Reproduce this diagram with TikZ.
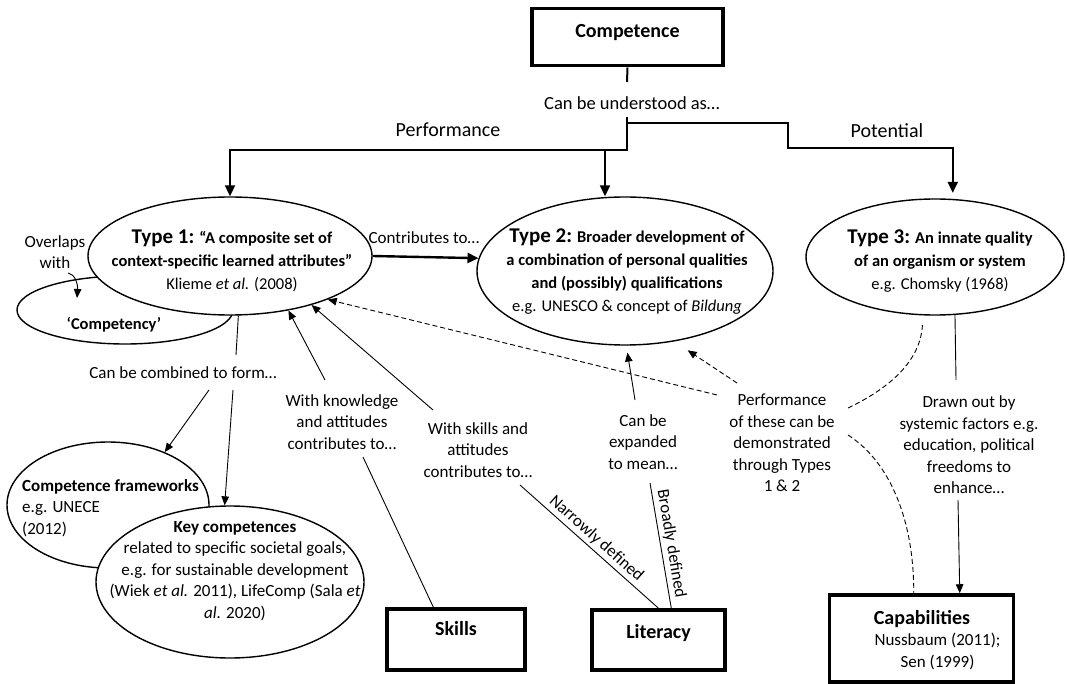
\documentclass[tikz,border=0pt]{standalone}
\usepackage{fontspec}
\setmainfont{Carlito}
\usetikzlibrary{arrows.meta,shapes.geometric}
\newcommand\typetag[1]{{\fontsize{21}{23}\selectfont #1}}
\begin{document}
\begin{tikzpicture}[x=1pt, y=-1pt,
  lbl/.style={font=\fontsize{17}{21.5}\selectfont, align=center, inner sep=0pt},
  branchlbl/.style={font=\fontsize{20}{24}\selectfont, inner sep=0pt},
  bubtxt/.style={font=\fontsize{16.5}{23}\selectfont\bfseries, align=center, inner sep=0pt},
  boxtxt/.style={font=\fontsize{20}{24}\selectfont\bfseries},
  termbox/.style={draw, line width=3.5pt, inner sep=0pt, align=center},
  bubble/.style={draw, ellipse, line width=1.4pt, fill=white, inner sep=0pt},
  heavy/.style={line width=2pt},
  slim/.style={line width=0.9pt},
  dashline/.style={line width=0.9pt, dash pattern=on 5pt off 3pt},
  bigtip/.style={-{Triangle[length=11pt,width=10pt]}},
  smalltip/.style={-{Triangle[length=9pt,width=7.5pt]}}
]
\useasboundingbox (0,0) rectangle (1067,684);

% ---------- boxes ----------
\node[termbox, boxtxt, anchor=north, minimum width=191pt, text height=28.5pt, text depth=28.5pt] (comp) at (627.5,7) {Competence};
\node[termbox, boxtxt, anchor=north, minimum width=138pt, text height=26.5pt, text depth=34.5pt] (skills) at (456,607) {Skills};
\node[termbox, boxtxt, anchor=north, minimum width=133pt, text height=28.5pt, text depth=31.5pt] (literacy) at (658.5,608) {Literacy};
\node[termbox, minimum width=184pt, minimum height=87pt] (caps) at (921.5,638.5) {};
\node[lbl] (capstxt) at (922,640) {{\fontsize{20}{24}\selectfont\bfseries Capabilities}\\ \hspace*{31pt}Nussbaum (2011);\\ \hspace*{31pt}Sen (1999)};

% ---------- ellipses (back ones first) ----------
\node[bubble, minimum width=216pt, minimum height=68pt] (cmpcy) at (125,310) {};
\node[bubble, minimum width=284pt, minimum height=118pt] (t1) at (230,256) {};
\node[bubble, minimum width=296pt, minimum height=148pt] (t2) at (625,271) {};
\node[bubble, minimum width=258pt, minimum height=116pt] (t3) at (935,257) {};
\node[bubble, minimum width=202pt, minimum height=126pt] (fw) at (108,505) {};
\node[bubble, minimum width=268pt, minimum height=152pt] (key) at (230,582) {};

% ---------- ellipse texts ----------
\node[bubtxt] (t1txt) at (232,261) {\typetag{Type 1:} “A composite set of\\ context-specific learned attributes”\\ {\mdseries Klieme \textit{et al.} (2008)}};
\node[bubtxt] (t2txt) at (627,272) {\typetag{Type 2:} Broader development of\\ a combination of personal qualities\\ and (possibly) qualifications\\ {\mdseries e.g. UNESCO \& concept of \textit{Bildung}}};
\node[bubtxt] (t3txt) at (940,261) {\typetag{Type 3:} An innate quality\\ of an organism or system\\ {\mdseries e.g. Chomsky (1968)}};
\node[bubtxt] (cmpcytxt) at (114,325) {‘Competency’};
\node[lbl, align=left, anchor=west] (fwtxt) at (22,508) {\textbf{Competence frameworks}\\ e.g. UNECE\\ (2012)};
\node[lbl] (keytxt) at (235,571) {\textbf{Key competences}\\ related to specific societal goals,\\ e.g. for sustainable development\\ (Wiek \textit{et al.} 2011), LifeComp (Sala \textit{et}\\ \textit{al.} 2020)};

% ---------- free labels ----------
\node[lbl, font=\fontsize{18.5}{22}\selectfont] (underst) at (632,103) {Can be understood as…};
\node[branchlbl] (perfword) at (448,130) {Performance};
\node[branchlbl] (potword) at (887,131) {Potential};
\node[lbl] (contrib) at (424,238) {Contributes to…};
\node[lbl] (overlap) at (55,252) {Overlaps\\ with};
\node[lbl] (combined) at (183,373) {Can be combined to form…};
\node[lbl] (knowledge) at (342,422) {With knowledge\\ and attitudes\\ contributes to…};
\node[lbl] (skillsatt) at (478,450) {With skills and\\ attitudes\\ contributes to…};
\node[lbl] (expanded) at (643,442) {Can be\\ expanded\\ to mean…};
\node[lbl] (perf) at (782,443) {Performance\\ of these can be\\ demonstrated\\ through Types\\ 1 \& 2};
\node[lbl] (drawn) at (969,445) {Drawn out by\\ systemic factors e.g.\\ education, political\\ freedoms to\\ enhance…};

% ---------- connector end points ----------
\coordinate (stemEnd) at (627,82);
\coordinate (forkTop) at (627,117);
\coordinate (forkMid) at (627,123);
\coordinate (forkLow) at (627,150);
\coordinate (rStep) at (788,123);
\coordinate (rStepLow) at (788,148);
\coordinate (t2drop) at (605,150);
\coordinate (ovA) at (68,273);
\coordinate (ovB) at (77,298);
\coordinate (combTop) at (236,355);
\coordinate (combL) at (209,390);
\coordinate (combR) at (233,390);
\coordinate (knowUp) at (325,380);
\coordinate (knowDn) at (363,457);
\coordinate (saUp) at (433,410);
\coordinate (saDn) at (520,485);
\coordinate (exUp) at (635,400);
\coordinate (exDn) at (650,483);
\coordinate (pfA) at (717,395);
\coordinate (pfB) at (737,383);
\coordinate (pfC) at (848,408);
\coordinate (pfD) at (848,435);
\coordinate (drUp) at (956,380);
\coordinate (drDn) at (958,500);

% ---------- top tree ----------
\draw[heavy] (comp.south) -- (stemEnd);
\draw[heavy, bigtip] (forkTop) -- (forkLow) -| (t1.north);
\draw[heavy, bigtip, shorten >=6pt] (forkMid) -- (rStep) -- (rStepLow) -| (t3.73);
\draw[heavy, bigtip] (t2drop) -- (t2drop |- t2.north);
\draw[line width=2.4pt, bigtip] (t1.east) -- (t2.175);

% ---------- thin connectors ----------
\draw[slim, smalltip] (ovA) .. controls (75,274) and (78,284) .. (ovB);
\draw[slim] (t1.-82) -- (combTop);
\draw[slim, smalltip] (combL) -- (fw.43);
\draw[slim, smalltip] (combR) -- (key.94);
\draw[slim, smalltip] (knowUp) -- (t1.-43);
\draw[slim] (knowDn) -- ([xshift=48pt]skills.north west);
\draw[slim, smalltip] (saUp) -- (t1.-31);
\draw[slim] (saDn) -- ([xshift=68pt]literacy.north west)
  node[lbl, midway, sloped, above=3pt] (narrow) {Narrowly defined};
\draw[slim, smalltip, shorten >=7pt] (exUp) -- (t2.-89);
\draw[slim] (exDn) -- ([xshift=81pt]literacy.north west)
  node[lbl, midway, sloped, above=3pt] (broad) {Broadly defined};
\draw[slim] (t3.-71) -- (drUp);
\draw[slim, smalltip] (drDn) -- ([xshift=132pt]caps.north west);

% ---------- dashed connectors ----------
\draw[dashline, smalltip] (pfA) -- (t1.-24);
\draw[dashline, smalltip, shorten >=16pt] (pfB) -- (t2.-55);
\draw[dashline, shorten >=7pt] (pfC) .. controls (890,388) and (922,360) .. (t3.-102);
\draw[dashline] (pfD) .. controls (890,462) and (914,520) .. ([xshift=86pt]caps.north west);
\end{tikzpicture}
\end{document}
